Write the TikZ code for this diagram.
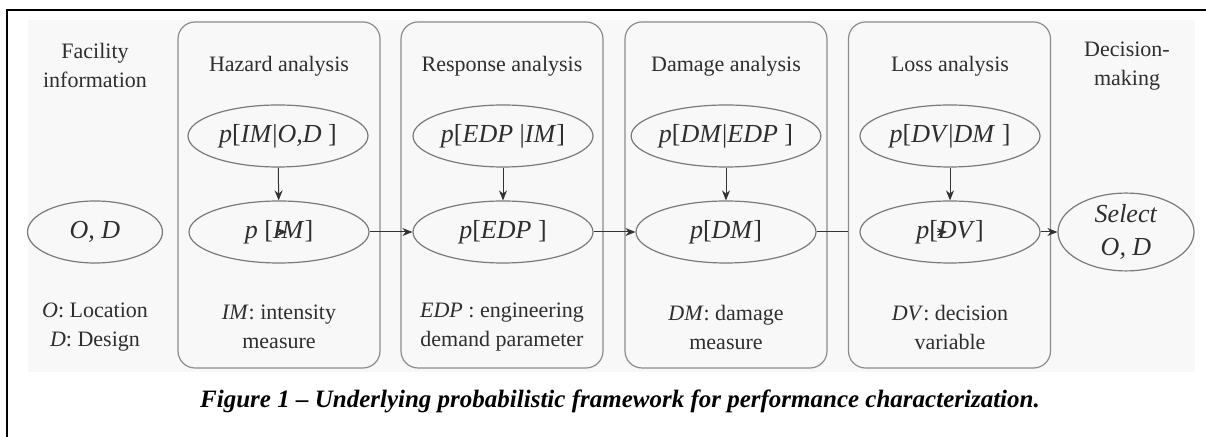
\documentclass[tikz,border=0pt]{standalone}
\usepackage{fontspec}
\setmainfont{Liberation Serif}
\usetikzlibrary{arrows.meta,shapes.geometric,calc}
\definecolor{boxgray}{HTML}{8C8C8C}
\definecolor{ellgray}{HTML}{7A7A7A}
\definecolor{txt}{HTML}{2E2E2E}
\definecolor{panel}{HTML}{F8F8F8}
\begin{document}
\begin{tikzpicture}[x=0.5pt,y=-0.5pt,
  stage/.style={draw=boxgray, line width=0.6pt, rounded corners=8.5pt, fill=panel,
    minimum width=101pt, minimum height=173pt, inner sep=0pt},
  ell/.style={ellipse, draw=ellgray, line width=0.6pt, fill=panel, minimum width=90pt,
    minimum height=31pt, inner sep=0pt, text=txt, font=\fontsize{13}{16.5}\selectfont, align=center},
  lbl/.style={text=txt, font=\fontsize{11}{14.5}\selectfont, align=center, inner sep=0pt},
  arr/.style={draw=black!80, line width=0.5pt, -{Stealth[length=5pt,width=4pt]}},
  ln/.style={draw=black!80, line width=0.5pt}]
\useasboundingbox (0,0) rectangle (1206,437);
\fill[panel] (28,20) rectangle (1195,372);
\draw[line width=1pt] (7,437) -- (7,10) -- (1206,10);

% stage boxes
\node[stage] (hz) at (279,195) {};
\node[stage] (rs) at (502,195) {};
\node[stage] (dm) at (726,195) {};
\node[stage] (ls) at (949.5,195) {};

% titles
\node[lbl] (tfac) at (95,65) {Facility\\information};
\node[lbl] (thz) at (279,66) {Hazard analysis};
\node[lbl] (trs) at (502,66) {Response analysis};
\node[lbl] (tdm) at (726,66) {Damage analysis};
\node[lbl] (tls) at (950,66) {Loss analysis};
\node[lbl] (tdec) at (1127,66) {Decision-\\making};

% top ellipses
\node[ell] (pimod) at (278,136) {\textit{p}[\textit{IM}|\textit{O,D} ]};
\node[ell] (pedpim) at (503,136) {\textit{p}[\textit{EDP} |\textit{IM}]};
\node[ell] (pdmedp) at (726,136) {\textit{p}[\textit{DM}|\textit{EDP} ]};
\node[ell] (pdvdm) at (950,136) {\textit{p}[\textit{DV}|\textit{DM} ]};

% bottom ellipses
\node[ell, minimum width=67.5pt] (od) at (95,232) {\textit{O, D}};
\node[ell] (pim) at (279,232) {\textit{p} [\textit{IM}]};
\node[ell] (pedp) at (503,232) {\textit{p}[\textit{EDP} ]};
\node[ell] (pdm) at (726,232) {\textit{p}[\textit{DM}]};
\node[ell] (pdv) at (950,232) {\textit{p}[\textit{DV}]};
\node[ell, minimum width=68pt] (sel) at (1126,232) {\textit{Select}\\\textit{O, D}};

% bottom labels
\node[lbl] (lod) at (95,327) {\textit{O}: Location\\\textit{D}: Design};
\node[lbl] (lim) at (279,327) {\textit{IM}: intensity\\measure};
\node[lbl] (ledp) at (502,327) {\textit{EDP} : engineering\\demand parameter};
\node[lbl] (ldm) at (726,327) {\textit{DM}: damage\\measure};
\node[lbl] (ldv) at (950,327) {\textit{DV}: decision\\variable};

% caption
\node[font=\fontsize{12.5}{15}\selectfont\bfseries\itshape, inner sep=0pt] (cap) at (620,401)
  {Figure 1 -- Underlying probabilistic framework for performance characterization.};

% connectors
\draw[arr] (pimod) -- (pim);
\draw[arr] (pedpim) -- (pedp);
\draw[arr] (pdmedp) -- (pdm);
\draw[arr] (pdvdm) -- (pdv);
\coordinate (odtail) at ($(pim.center)+(-2,0)$);
\coordinate (odtip) at ($(pim.center)+(8,0)$);
\draw[arr] (odtail) -- (odtip);
\draw[arr] (pim) -- (pedp);
\draw[arr] (pedp) -- (pdm);
\coordinate (dmend) at (pdm.east -| ls.west);
\draw[ln] (pdm.east) -- (dmend);
\coordinate (dvtail) at ($(pdv.center)+(-13,0)$);
\coordinate (dvtip) at ($(pdv.center)+(-3,0)$);
\draw[arr] (dvtail) -- (dvtip);
\draw[arr] (pdv) -- (sel);
\end{tikzpicture}
\end{document}
